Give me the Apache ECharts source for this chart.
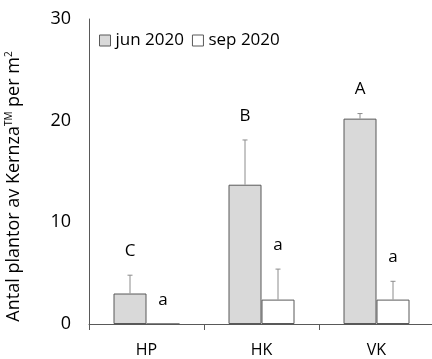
<!DOCTYPE html>
<html><head><meta charset="utf-8">
<script src="https://cdn.jsdelivr.net/npm/echarts@6/dist/echarts.min.js"></script>
<style>html,body{margin:0;padding:0;background:#fff}#c{width:432px;height:359px}</style>
</head><body><div id="c"></div>
<script>
const categories = ['HP', 'HK', 'VK'];
const seriesNames = ['jun 2020', 'sep 2020'];
const junValues = [3.0, 13.7, 20.2];
const junErrors = [1.8, 4.4, 0.5];
const junLetters = ['C', 'B', 'A'];
const sepValues = [0, 2.4, 2.4];
const sepErrors = [0, 3.0, 1.8];
const sepLetters = ['a', 'a', 'a'];
const yTicks = [0, 10, 20, 30];

const BAR_W = 33;
const FONT = 'Open Sans, Noto Sans, DejaVu Sans, sans-serif';

function errSeries(vals, errs, letters, side) {
  return {
    type: 'custom',
    z: 10,
    silent: true,
    data: categories.map((c, i) => [i, vals[i], errs[i]]),
    renderItem: function (params, api) {
      const i = api.value(0), v = api.value(1), e = api.value(2);
      const letter = letters[params.dataIndex];
      const base = api.coord([i, v]);
      const top = api.coord([i, v + e]);
      const x = base[0] + side * BAR_W / 2;
      const children = [];
      if (e > 0) {
        children.push({ type: 'line', shape: { x1: x, y1: base[1], x2: x, y2: top[1] }, style: { stroke: '#8c8c8c', lineWidth: 1 } });
        children.push({ type: 'line', shape: { x1: x - 2.5, y1: top[1], x2: x + 2.5, y2: top[1] }, style: { stroke: '#8c8c8c', lineWidth: 1 } });
      }
      children.push({ type: 'text', style: { text: letter, x: x, y: top[1] - 24, textAlign: 'center', textVerticalAlign: 'middle', fill: '#000', font: '17px ' + FONT } });
      return { type: 'group', children: children };
    }
  };
}

const chart = echarts.init(document.getElementById('c'));
chart.setOption({
  animation: false,
  textStyle: { fontFamily: FONT },
  legend: {
    left: 94, top: 27,
    itemWidth: 11, itemHeight: 11, itemGap: 8,
    icon: 'rect',
    textStyle: { fontSize: 17, color: '#000', fontFamily: FONT },
    data: [
      { name: seriesNames[0], itemStyle: { color: '#d9d9d9', borderColor: '#595959', borderWidth: 1 } },
      { name: seriesNames[1], itemStyle: { color: '#ffffff', borderColor: '#595959', borderWidth: 1 } }
    ]
  },
  grid: { left: 89, right: -2, top: 19, bottom: 35, containLabel: false, outerBoundsMode: 'none' },
  xAxis: {
    type: 'category',
    data: categories,
    axisLine: { lineStyle: { color: '#595959', width: 1 } },
    axisTick: { show: true, alignWithLabel: false, length: 6, lineStyle: { color: '#595959' } },
    axisLabel: { color: '#000', fontSize: 16, margin: 18, fontFamily: FONT }
  },
  yAxis: {
    type: 'value',
    min: 0, max: 30, interval: 10,
    name: 'Antal plantor av Kernza{sup|TM} per m{sup|2}',
    nameLocation: 'middle',
    nameGap: 66,
    nameRotate: 90,
    nameTextStyle: {
      fontSize: 18, color: '#000', fontFamily: FONT, padding: [0, 30, 0, 0],
      rich: { sup: { fontSize: 10, verticalAlign: 'top', padding: [0, 0, 9, 0], fontFamily: FONT, color: '#000' } }
    },
    axisLine: { show: true, lineStyle: { color: '#595959', width: 1 } },
    axisTick: { show: false },
    splitLine: { show: false },
    axisLabel: { color: '#000', fontSize: 18, margin: 18, fontFamily: FONT,
      formatter: v => yTicks.includes(v) ? String(v) : '' }
  },
  series: [
    { name: seriesNames[0], type: 'bar', data: junValues, barWidth: BAR_W, barGap: '0%',
      itemStyle: { color: '#d9d9d9', borderColor: '#595959', borderWidth: 1 } },
    { name: seriesNames[1], type: 'bar', data: sepValues, barWidth: BAR_W, barGap: '0%',
      itemStyle: { color: '#ffffff', borderColor: '#595959', borderWidth: 1 } },
    errSeries(junValues, junErrors, junLetters, -1),
    errSeries(sepValues, sepErrors, sepLetters, 1)
  ]
});
</script></body></html>
